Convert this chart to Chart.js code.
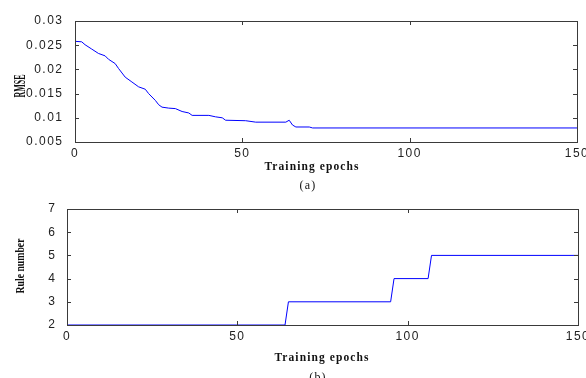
<!DOCTYPE html>
<html>
<head>
<meta charset="utf-8">
<script src="https://cdn.jsdelivr.net/npm/chart.js@4/dist/chart.umd.min.js"></script>
<style>
  body { margin: 0; background: #fff; }
  #wrap { position: relative; width: 586px; height: 378px; overflow: hidden; }
  canvas { position: absolute; left: 0; }
  .lbl { position: absolute; font-family: "Liberation Serif", serif; color: #111; white-space: nowrap; }
</style>
</head>
<body>
<div id="wrap">
  <canvas id="rmseChart" width="586" height="195" style="top:0;width:586px;height:195px"></canvas>
  <canvas id="ruleChart" width="586" height="183" style="top:195px;width:586px;height:183px"></canvas>

  <div class="lbl" style="left:20px;top:86px;font-size:16px;font-weight:bold;transform:translate(-50%,-50%) rotate(-90deg) scaleX(0.5)">RMSE</div>
  <div class="lbl" style="left:312px;top:166px;font-size:11.5px;font-weight:bold;letter-spacing:1.1px;transform:translate(-50%,-50%)">Training epochs</div>
  <div class="lbl" style="left:308px;top:185px;font-size:12px;letter-spacing:1.2px;transform:translate(-50%,-50%)">(a)</div>

  <div class="lbl" style="left:20px;top:266px;font-size:13px;font-weight:bold;transform:translate(-50%,-50%) rotate(-90deg) scaleX(0.75)">Rule number</div>
  <div class="lbl" style="left:322px;top:357px;font-size:11.5px;font-weight:bold;letter-spacing:1.1px;transform:translate(-50%,-50%)">Training epochs</div>
  <div class="lbl" style="left:318px;top:377px;font-size:12px;letter-spacing:1.2px;transform:translate(-50%,-50%)">(b)</div>
</div>

<script>
// values
const epochTicks = [0, 50, 100, 150];

const rmseEpochs = [0, 2, 3, 5, 7, 9, 10, 12, 13, 15, 17, 19, 21, 22, 24, 25, 26, 28, 30, 32, 34, 35,
  40, 42, 44, 45, 51, 54, 63, 64, 65, 66, 70, 71, 150];
const rmseValues = [0.0258, 0.0257, 0.0251, 0.0242, 0.0233, 0.0228, 0.0221, 0.0212, 0.0202, 0.0184,
  0.0174, 0.0164, 0.0159, 0.0150, 0.0136, 0.0127, 0.0122, 0.0120, 0.0119, 0.0113, 0.0110, 0.0105,
  0.0105, 0.0102, 0.0100, 0.0095, 0.0094, 0.0091, 0.0091, 0.0095, 0.0085, 0.0081, 0.0081, 0.0079, 0.0079];
const rmseTicks = [0.005, 0.01, 0.015, 0.02, 0.025, 0.03];

const ruleEpochs = [0, 64, 65, 95, 96, 106, 107, 150];
const ruleValues = [2, 2, 3, 3, 4, 4, 5, 5];
const ruleTicks = [2, 3, 4, 5, 6, 7];

const LINE = "#0000ff";
const FRAME = "#3a3a3a";
const TICKFONT = { family: "'Liberation Sans', Arial, sans-serif", size: 12 };

// matlab look: wide letter spacing, box round the axes, ticks pointing inward
const matlabAxes = {
  id: "matlabAxes",
  beforeLayout(chart) { chart.ctx.letterSpacing = "1.5px"; },
  beforeDraw(chart) { chart.ctx.letterSpacing = "1.5px"; },
  afterDraw(chart) {
    const { ctx, chartArea: a, scales } = chart;
    const len = 4;
    ctx.save();
    ctx.strokeStyle = FRAME;
    ctx.lineWidth = 1;
    ctx.strokeRect(a.left + 0.5, a.top + 0.5, a.right - a.left, a.bottom - a.top);
    ctx.beginPath();
    scales.x.ticks.forEach(t => {
      const x = Math.round(scales.x.getPixelForValue(t.value)) + 0.5;
      ctx.moveTo(x, a.bottom); ctx.lineTo(x, a.bottom - len);
      ctx.moveTo(x, a.top); ctx.lineTo(x, a.top + len);
    });
    scales.y.ticks.forEach(t => {
      const y = Math.round(scales.y.getPixelForValue(t.value)) + 0.5;
      ctx.moveTo(a.left, y); ctx.lineTo(a.left + len, y);
      ctx.moveTo(a.right, y); ctx.lineTo(a.right - len, y);
    });
    ctx.stroke();
    ctx.restore();
  }
};

function makeChart(id, xs, ys, yMin, yMax, yTicks, fmt, pad, yWidth, yPad) {
  return new Chart(document.getElementById(id), {
    type: "line",
    data: {
      datasets: [{
        data: xs.map((x, i) => ({ x: x, y: ys[i] })),
        borderColor: LINE,
        borderWidth: 1,
        pointRadius: 0,
        tension: 0,
        fill: false
      }]
    },
    options: {
      responsive: false,
      animation: false,
      events: [],
      layout: { padding: pad },
      plugins: { legend: { display: false }, tooltip: { enabled: false } },
      scales: {
        x: {
          type: "linear",
          min: 0, max: 150,
          afterBuildTicks: s => { s.ticks = epochTicks.map(v => ({ value: v })); },
          afterFit: s => { s.height = 53; s.paddingLeft = 0; s.paddingRight = 0; },
          grid: { display: false },
          border: { display: false },
          ticks: { font: TICKFONT, color: "#222", padding: -4, maxRotation: 0, autoSkip: false }
        },
        y: {
          min: yMin, max: yMax,
          afterBuildTicks: s => { s.ticks = yTicks.map(v => ({ value: v })); },
          afterFit: s => { s.width = yWidth; s.paddingTop = 0; s.paddingBottom = 0; },
          grid: { display: false },
          border: { display: false },
          ticks: { font: TICKFONT, color: "#222", padding: yPad, callback: fmt }
        }
      }
    },
    plugins: [matlabAxes]
  });
}

makeChart("rmseChart", rmseEpochs, rmseValues, 0.005, 0.03, rmseTicks,
  v => String(+v.toFixed(3)), { left: 0, top: 21, right: 9, bottom: 0 }, 75, 3.5);

makeChart("ruleChart", ruleEpochs, ruleValues, 2, 7, ruleTicks,
  v => String(v), { left: 0, top: 14, right: 8, bottom: 0 }, 67, 2.5);
</script>
</body>
</html>
